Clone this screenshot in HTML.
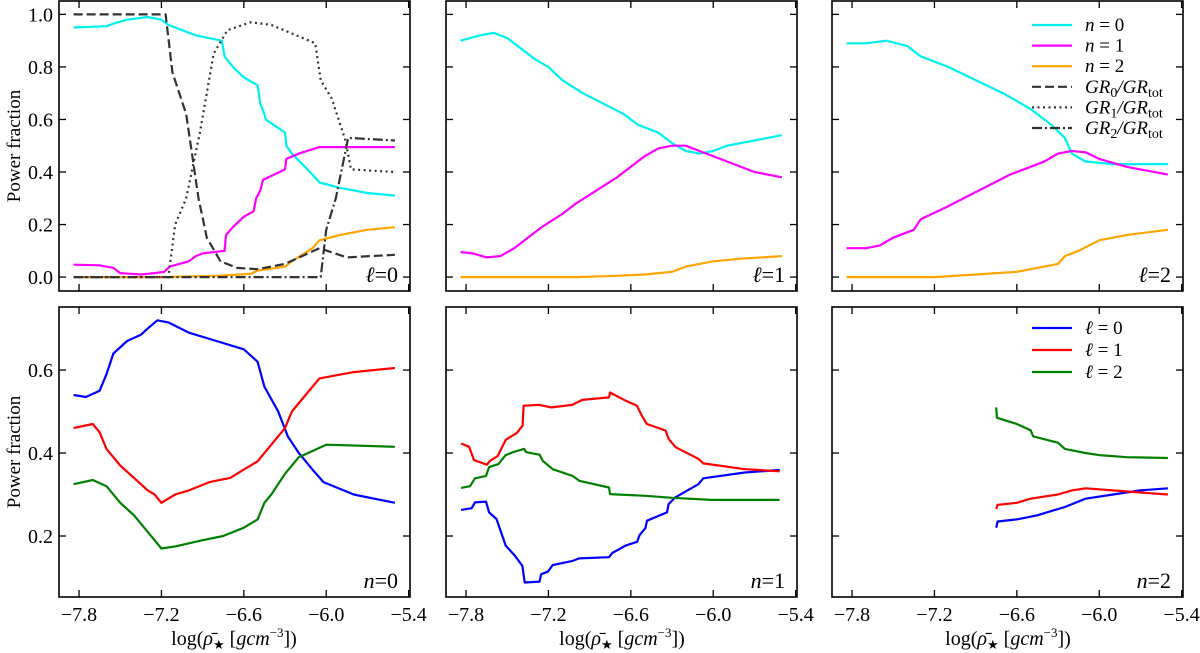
<!DOCTYPE html>
<html><head><meta charset="utf-8"><style>
body{margin:0;background:#fff;}
svg{display:block;font-family:"Liberation Serif",serif;}
</style></head><body>
<svg id="chart" width="1200" height="653" viewBox="0 0 1200 653" xmlns="http://www.w3.org/2000/svg"></svg>
<script>
// ---- data (x in log rho, y in power fraction) ----
const xTicks = [-7.8, -7.2, -6.6, -6.0, -5.4];
const xTickLabels = ["\u22127.8", "\u22127.2", "\u22126.6", "\u22126.0", "\u22125.4"];
const yTicksTop = [0.0, 0.2, 0.4, 0.6, 0.8, 1.0];
const yTickLabelsTop = ["0.0", "0.2", "0.4", "0.6", "0.8", "1.0"];
const yTicksBot = [0.2, 0.4, 0.6];
const yTickLabelsBot = ["0.2", "0.4", "0.6"];

const l0_n0 = [[-7.84,0.95],[-7.6,0.955],[-7.55,0.965],[-7.45,0.98],[-7.3,0.99],[-7.2,0.98],[-7.15,0.96],[-6.95,0.92],[-6.76,0.90],[-6.74,0.84],[-6.68,0.80],[-6.6,0.76],[-6.5,0.73],[-6.48,0.66],[-6.45,0.62],[-6.44,0.60],[-6.3,0.55],[-6.29,0.50],[-6.25,0.47],[-6.1,0.39],[-6.05,0.36],[-5.9,0.34],[-5.7,0.32],[-5.5,0.31]];
const l0_n1 = [[-7.84,0.047],[-7.65,0.045],[-7.55,0.035],[-7.5,0.015],[-7.35,0.01],[-7.25,0.015],[-7.18,0.02],[-7.14,0.04],[-7.0,0.06],[-6.95,0.08],[-6.9,0.09],[-6.74,0.10],[-6.73,0.16],[-6.68,0.19],[-6.6,0.23],[-6.53,0.25],[-6.51,0.30],[-6.48,0.33],[-6.46,0.37],[-6.3,0.41],[-6.29,0.45],[-6.2,0.47],[-6.05,0.495],[-5.5,0.495]];
const l0_n2 = [[-7.84,0],[-7.2,0],[-6.8,0.005],[-6.55,0.012],[-6.5,0.025],[-6.3,0.04],[-6.25,0.06],[-6.1,0.11],[-6.05,0.14],[-5.9,0.16],[-5.7,0.18],[-5.5,0.19]];
const l0_gr0 = [[-7.84,1.0],[-7.17,1.0],[-7.12,0.78],[-7.02,0.62],[-6.93,0.3],[-6.87,0.15],[-6.77,0.06],[-6.65,0.035],[-6.5,0.03],[-6.3,0.05],[-6.05,0.11],[-5.85,0.075],[-5.5,0.085]];
const l0_gr1 = [[-7.84,0],[-7.15,0],[-7.1,0.2],[-7.02,0.3],[-6.92,0.55],[-6.82,0.85],[-6.72,0.94],[-6.55,0.97],[-6.4,0.96],[-6.08,0.89],[-6.04,0.75],[-5.96,0.68],[-5.86,0.52],[-5.82,0.41],[-5.5,0.4]];
const l0_gr2 = [[-7.84,0],[-6.04,0],[-6.0,0.18],[-5.93,0.3],[-5.84,0.53],[-5.5,0.52]];

const l1_n0 = [[-7.84,0.90],[-7.7,0.92],[-7.6,0.93],[-7.5,0.91],[-7.4,0.87],[-7.3,0.83],[-7.2,0.80],[-7.1,0.75],[-6.95,0.70],[-6.8,0.66],[-6.65,0.62],[-6.55,0.58],[-6.4,0.55],[-6.3,0.51],[-6.2,0.48],[-6.1,0.47],[-6.0,0.48],[-5.9,0.50],[-5.7,0.52],[-5.5,0.54]];
const l1_n1 = [[-7.84,0.095],[-7.75,0.09],[-7.65,0.075],[-7.55,0.08],[-7.45,0.11],[-7.35,0.15],[-7.25,0.19],[-7.1,0.24],[-7.0,0.28],[-6.85,0.33],[-6.7,0.38],[-6.6,0.42],[-6.5,0.46],[-6.4,0.49],[-6.3,0.50],[-6.2,0.50],[-6.1,0.48],[-5.9,0.44],[-5.7,0.40],[-5.5,0.38]];
const l1_n2 = [[-7.84,0],[-7.0,0],[-6.7,0.005],[-6.5,0.01],[-6.3,0.02],[-6.2,0.04],[-6.0,0.06],[-5.8,0.07],[-5.5,0.08]];

const l2_n0 = [[-7.84,0.89],[-7.7,0.89],[-7.55,0.90],[-7.4,0.88],[-7.3,0.84],[-7.1,0.80],[-6.9,0.75],[-6.7,0.70],[-6.5,0.64],[-6.35,0.58],[-6.25,0.53],[-6.2,0.47],[-6.1,0.44],[-5.9,0.43],[-5.5,0.43]];
const l2_n1 = [[-7.84,0.11],[-7.7,0.11],[-7.6,0.12],[-7.5,0.15],[-7.35,0.18],[-7.3,0.22],[-7.1,0.27],[-6.95,0.31],[-6.8,0.35],[-6.65,0.39],[-6.5,0.42],[-6.4,0.44],[-6.3,0.47],[-6.2,0.48],[-6.1,0.475],[-6.0,0.45],[-5.8,0.42],[-5.5,0.39]];
const l2_n2 = [[-7.84,0],[-7.2,0],[-6.9,0.01],[-6.6,0.02],[-6.4,0.04],[-6.3,0.05],[-6.25,0.08],[-6.15,0.10],[-6.0,0.14],[-5.8,0.16],[-5.5,0.18]];

const n0_l0 = [[-7.84,0.54],[-7.75,0.535],[-7.65,0.55],[-7.6,0.59],[-7.55,0.64],[-7.45,0.67],[-7.35,0.685],[-7.3,0.70],[-7.23,0.72],[-7.15,0.715],[-7.0,0.69],[-6.8,0.67],[-6.6,0.65],[-6.5,0.62],[-6.45,0.56],[-6.35,0.50],[-6.28,0.44],[-6.2,0.40],[-6.1,0.36],[-6.02,0.33],[-5.8,0.30],[-5.5,0.28]];
const n0_l1 = [[-7.84,0.46],[-7.7,0.47],[-7.65,0.45],[-7.6,0.41],[-7.5,0.37],[-7.4,0.34],[-7.3,0.31],[-7.25,0.30],[-7.2,0.28],[-7.1,0.30],[-7.0,0.31],[-6.85,0.33],[-6.7,0.34],[-6.6,0.36],[-6.5,0.38],[-6.4,0.42],[-6.3,0.46],[-6.25,0.50],[-6.15,0.54],[-6.05,0.58],[-5.8,0.595],[-5.5,0.605]];
const n0_l2 = [[-7.84,0.325],[-7.7,0.335],[-7.6,0.32],[-7.5,0.28],[-7.4,0.25],[-7.3,0.21],[-7.25,0.19],[-7.2,0.17],[-7.1,0.175],[-6.9,0.19],[-6.75,0.20],[-6.6,0.22],[-6.5,0.24],[-6.45,0.28],[-6.4,0.30],[-6.3,0.35],[-6.2,0.39],[-6.0,0.42],[-5.5,0.415]];

const n1_l0 = [[-7.836,0.263],[-7.759,0.267],[-7.735,0.281],[-7.655,0.283],[-7.632,0.257],[-7.578,0.241],[-7.511,0.177],[-7.446,0.153],[-7.39,0.128],[-7.373,0.088],[-7.265,0.09],[-7.253,0.108],[-7.205,0.114],[-7.169,0.13],[-7.024,0.14],[-6.976,0.146],[-6.759,0.149],[-6.735,0.159],[-6.638,0.177],[-6.554,0.186],[-6.537,0.202],[-6.494,0.219],[-6.482,0.237],[-6.337,0.257],[-6.325,0.277],[-6.277,0.293],[-6.108,0.325],[-6.072,0.339],[-5.771,0.353],[-5.517,0.359]];
const n1_l1 = [[-7.836,0.423],[-7.778,0.415],[-7.742,0.383],[-7.648,0.372],[-7.626,0.381],[-7.569,0.393],[-7.511,0.432],[-7.431,0.448],[-7.388,0.466],[-7.381,0.514],[-7.265,0.516],[-7.178,0.51],[-7.026,0.516],[-6.954,0.528],[-6.759,0.534],[-6.752,0.546],[-6.636,0.526],[-6.556,0.514],[-6.52,0.49],[-6.484,0.47],[-6.347,0.454],[-6.325,0.434],[-6.274,0.414],[-6.108,0.386],[-6.072,0.375],[-5.768,0.361],[-5.515,0.356]];
const n1_l2 = [[-7.836,0.316],[-7.771,0.32],[-7.735,0.339],[-7.655,0.345],[-7.632,0.366],[-7.566,0.373],[-7.511,0.395],[-7.458,0.402],[-7.378,0.41],[-7.361,0.402],[-7.265,0.396],[-7.241,0.381],[-7.169,0.361],[-7.024,0.345],[-6.976,0.333],[-6.759,0.317],[-6.752,0.301],[-6.494,0.297],[-6.301,0.292],[-6.012,0.287],[-5.517,0.287]];

const n2_l0 = [[-6.75,0.22],[-6.74,0.235],[-6.6,0.24],[-6.45,0.25],[-6.35,0.26],[-6.25,0.27],[-6.1,0.29],[-5.9,0.30],[-5.7,0.31],[-5.5,0.315]];
const n2_l1 = [[-6.75,0.265],[-6.74,0.275],[-6.6,0.28],[-6.5,0.29],[-6.4,0.295],[-6.3,0.30],[-6.2,0.31],[-6.1,0.315],[-5.9,0.31],[-5.7,0.305],[-5.5,0.30]];
const n2_l2 = [[-6.75,0.51],[-6.745,0.485],[-6.6,0.47],[-6.5,0.455],[-6.48,0.44],[-6.3,0.425],[-6.25,0.41],[-6.1,0.40],[-6.0,0.395],[-5.8,0.39],[-5.5,0.388]];

// ---- layout ----
const NS = "http://www.w3.org/2000/svg";
const svg = document.getElementById('chart');
const colLeft = [59, 446, 832], panelW = 351;
const rowTop = [1, 307], panelH = 290;
const xMin = -7.946, xMax = -5.39;
const yDomTop = [-0.053, 1.051], yDomBot = [0.053, 0.752];
const C = {cyan:"#00f0f0", mag:"#ff00ff", orange:"#ffa500", blue:"#0000ff", red:"#ff0000", green:"#008000", k:"#333"};

function mk(tag, attrs, parent){const e=document.createElementNS(NS,tag);for(const k in attrs)e.setAttribute(k,attrs[k]);(parent||svg).appendChild(e);return e;}
function xs(c){return v=>colLeft[c]+(v-xMin)/(xMax-xMin)*panelW;}
function ys(r){const d=r===0?yDomTop:yDomBot;return v=>rowTop[r]+panelH-(v-d[0])/(d[1]-d[0])*panelH;}

function panel(r,c,series,label){
  const g=mk('g',{});
  
  
  const X=xs(c),Y=ys(r);
  const L=colLeft[c],T=rowTop[r];
  series.forEach(s=>{
    const p=mk('path',{d:s.data.map((pt,i)=>(i?'L':'M')+X(pt[0]).toFixed(1)+','+Y(pt[1]).toFixed(1)).join(''),fill:'none',stroke:s.color,'stroke-width':2.2,'stroke-linejoin':'round'},g);
    if(s.dash)p.setAttribute('stroke-dasharray',s.dash);
    
    
  });
  const frame=mk('rect',{x:L,y:T,width:panelW,height:panelH,fill:'none',stroke:'#000','stroke-width':1.6},g);
  
  
  xTicks.forEach((t,i)=>{
    const x=X(t);
    mk('line',{x1:x,x2:x,y1:T+panelH,y2:T+panelH-7,stroke:'#000','stroke-width':1.3},g);
    mk('line',{x1:x,x2:x,y1:T,y2:T+7,stroke:'#000','stroke-width':1.3},g);
    if(r===1){const tx=mk('text',{x:x,y:T+panelH+24,'font-size':20,'text-anchor':'middle'},g);tx.textContent=xTickLabels[i];
      }
  });
  const yt=r===0?yTicksTop:yTicksBot, yl=r===0?yTickLabelsTop:yTickLabelsBot;
  yt.forEach((t,i)=>{
    const y=Y(t);
    mk('line',{x1:L,x2:L+7,y1:y,y2:y,stroke:'#000','stroke-width':1.3},g);
    mk('line',{x1:L+panelW,x2:L+panelW-7,y1:y,y2:y,stroke:'#000','stroke-width':1.3},g);
    if(c===0){const tx=mk('text',{x:L-6,y:y+7,'font-size':20,'text-anchor':'end'},g);tx.textContent=yl[i];
      }
  });
  const lb=mk('text',{x:L+panelW-12,y:T+panelH-9,'font-size':22,'text-anchor':'end'},g);
  lb.innerHTML=label;
  
  
}

panel(0,0,[{data:l0_n0,color:C.cyan,name:'n0-line'},{data:l0_n1,color:C.mag,name:'n1-line'},{data:l0_n2,color:C.orange,name:'n2-line'},
 {data:l0_gr0,color:C.k,dash:'9,4',name:'gr0-line'},{data:l0_gr1,color:C.k,dash:'2,3.5',name:'gr1-line'},{data:l0_gr2,color:C.k,dash:'10,3,2,3',name:'gr2-line'}],'<tspan font-style="italic">ℓ</tspan>=0');
panel(0,1,[{data:l1_n0,color:C.cyan,name:'n0-line'},{data:l1_n1,color:C.mag,name:'n1-line'},{data:l1_n2,color:C.orange,name:'n2-line'}],'<tspan font-style="italic">ℓ</tspan>=1');
panel(0,2,[{data:l2_n0,color:C.cyan,name:'n0-line'},{data:l2_n1,color:C.mag,name:'n1-line'},{data:l2_n2,color:C.orange,name:'n2-line'}],'<tspan font-style="italic">ℓ</tspan>=2');
panel(1,0,[{data:n0_l0,color:C.blue,name:'l0-line'},{data:n0_l1,color:C.red,name:'l1-line'},{data:n0_l2,color:C.green,name:'l2-line'}],'<tspan font-style="italic">n</tspan>=0');
panel(1,1,[{data:n1_l0,color:C.blue,name:'l0-line'},{data:n1_l1,color:C.red,name:'l1-line'},{data:n1_l2,color:C.green,name:'l2-line'}],'<tspan font-style="italic">n</tspan>=1');
panel(1,2,[{data:n2_l0,color:C.blue,name:'l0-line'},{data:n2_l1,color:C.red,name:'l1-line'},{data:n2_l2,color:C.green,name:'l2-line'}],'<tspan font-style="italic">n</tspan>=2');

// legends
function legend(items,y0,dy,name){
  const g=mk('g',{});
  
  
  items.forEach((it,i)=>{
    const y=y0+i*dy;
    const ln=mk('line',{x1:1032,x2:1072,y1:y,y2:y,stroke:it.color,'stroke-width':2.2},g);
    if(it.dash)ln.setAttribute('stroke-dasharray',it.dash);
    const t=mk('text',{x:1085,y:y+6,'font-size':19},g);
    t.innerHTML=it.label;
    
    
  });
}
const it='font-style="italic"';
legend([{color:C.cyan,label:`<tspan ${it}>n</tspan> = 0`},{color:C.mag,label:`<tspan ${it}>n</tspan> = 1`},{color:C.orange,label:`<tspan ${it}>n</tspan> = 2`},
 {color:C.k,dash:'9,4',label:`<tspan ${it}>GR</tspan><tspan font-size="14" dy="4">0</tspan><tspan dy="-4" ${it}>/GR</tspan><tspan font-size="14" dy="4">tot</tspan>`},
 {color:C.k,dash:'2,3.5',label:`<tspan ${it}>GR</tspan><tspan font-size="14" dy="4">1</tspan><tspan dy="-4" ${it}>/GR</tspan><tspan font-size="14" dy="4">tot</tspan>`},
 {color:C.k,dash:'10,3,2,3',label:`<tspan ${it}>GR</tspan><tspan font-size="14" dy="4">2</tspan><tspan dy="-4" ${it}>/GR</tspan><tspan font-size="14" dy="4">tot</tspan>`}],25,20.6,'legend-top');
legend([{color:C.blue,label:`<tspan ${it}>ℓ</tspan> = 0`},{color:C.red,label:`<tspan ${it}>ℓ</tspan> = 1`},{color:C.green,label:`<tspan ${it}>ℓ</tspan> = 2`}],328,22,'legend-bottom');

// axis titles
[[20,146],[20,452]].forEach(p=>{
  const t=mk('text',{x:p[0],y:p[1],'font-size':19,'text-anchor':'middle',transform:`rotate(-90 ${p[0]} ${p[1]})`});
  t.textContent='Power fraction';
  
  
});
[234,622,1008].forEach(x=>{
  const t=mk('text',{x:x,y:645,'font-size':20,'text-anchor':'middle'});
  t.innerHTML='log(<tspan font-style="italic">ρ̄</tspan><tspan font-size="13" dy="4">★</tspan><tspan dy="-4"> [</tspan><tspan font-style="italic">gcm</tspan><tspan font-size="13" dy="-8">−3</tspan><tspan dy="8">])</tspan>';
  
  
});
</script>
</body></html>
